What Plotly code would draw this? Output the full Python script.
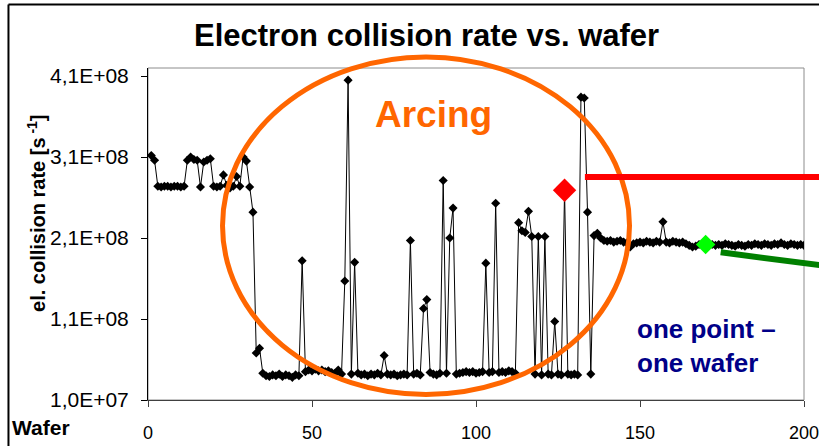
import plotly.graph_objects as go

# Wafer index and measured electron collision rate (in units of 1e6 s^-1)
wafers = list(range(1, 201))
rate_mil = [
    312, 306, 274, 273, 274, 274, 273, 274, 274, 273,
    274, 306, 310, 307, 306, 273, 304, 306, 308, 274,
    273, 274, 288, 275, 272, 274, 286, 274, 310, 305,
    273, 242, 68, 74, 43, 40, 39, 41, 40, 42,
    39, 41, 40, 38, 41, 40, 182, 45, 47, 46,
    48, 46, 47, 45, 46, 44, 43, 47, 42, 157,
    405, 42, 180, 43, 41, 42, 40, 42, 41, 43,
    41, 65, 42, 41, 42, 40, 41, 42, 41, 207,
    42, 43, 41, 123, 134, 44, 42, 41, 43, 281,
    43, 210, 247, 42, 43, 44, 45, 44, 45, 43,
    44, 45, 179, 44, 45, 253, 44, 45, 44, 46,
    45, 43, 229, 219, 217, 243, 212, 42, 212, 41,
    212, 42, 41, 107, 42, 41, 269, 42, 41, 42,
    41, 384, 383, 242, 42, 213, 216, 210, 207, 206,
    207, 205, 206, 207, 205, 204, 199, 203, 204, 205,
    204, 206, 205, 204, 206, 205, 230, 205, 204, 206,
    205, 204, 205, 203, 201, 199, 200, 202, 203, 202,
    203, 202, 201, 202, 201, 203, 202, 201, 200, 202,
    201, 200, 202, 201, 203, 202, 201, 203, 202, 201,
    203, 202, 204, 202, 201, 203, 202, 201, 202, 201,
]
rate = [v * 1e6 for v in rate_mil]

# Highlighted wafers
red_wafer = 127
green_wafer = 170

y_ticks = [1e7, 1.1e8, 2.1e8, 3.1e8, 4.1e8]
y_tick_text = ["1,0E+07", "1,1E+08", "2,1E+08", "3,1E+08", "4,1E+08"]
x_ticks = [0, 50, 100, 150, 200]

FONT = "Liberation Sans, Arial, sans-serif"

fig = go.Figure()
fig.add_trace(go.Scatter(
    x=wafers, y=rate, mode="lines+markers",
    line=dict(color="#000000", width=1),
    marker=dict(symbol="diamond", size=7, color="#000000"),
    showlegend=False,
))
fig.add_trace(go.Scatter(
    x=[red_wafer], y=[rate[wafers.index(red_wafer)]], mode="markers",
    marker=dict(symbol="diamond", size=18, color="#ff0000"),
    showlegend=False,
))
fig.add_trace(go.Scatter(
    x=[green_wafer], y=[rate[wafers.index(green_wafer)]], mode="markers",
    marker=dict(symbol="diamond", size=15, color="#00ff00"),
    showlegend=False,
))

shapes = [
    # plot-area frame (top / right in grey)
    dict(type="rect", xref="paper", yref="paper", x0=0, x1=1, y0=0, y1=1,
         line=dict(color="#8c8c8c", width=1), layer="below"),
    # outer slide frame
    dict(type="line", xref="paper", yref="paper", x0=-0.2127, x1=1.05,
         y0=1.1913, y1=1.1913, line=dict(color="#000000", width=2)),
    dict(type="line", xref="paper", yref="paper", x0=-0.2127, x1=-0.2127,
         y0=1.1913, y1=-0.16, line=dict(color="#000000", width=2)),
    # arcing region
    dict(type="circle", xref="paper", yref="paper", x0=0.1136, x1=0.734,
         y0=0.0166, y1=1.0331, line=dict(color="#ff6600", width=5)),
    # pointer lines
    dict(type="line", xref="paper", yref="paper", x0=0.666, x1=1.03,
         y0=0.6717, y1=0.6717, line=dict(color="#ff0000", width=6)),
    dict(type="line", xref="paper", yref="paper", x0=0.873, x1=1.03,
         y0=0.4449, y1=0.4046, line=dict(color="#008000", width=6)),
]

annotations = [
    dict(text="<b>Electron collision rate vs. wafer</b>", xref="paper", yref="paper",
         x=0.4238, y=1.0979, xanchor="center", yanchor="middle", showarrow=False,
         font=dict(family=FONT, size=31, color="#000000")),
    dict(text="<b>el. collision rate [s<sup> -1</sup>]</b>", xref="paper", yref="paper",
         x=-0.1692, y=0.5633, xanchor="center", yanchor="middle", textangle=-90,
         showarrow=False, font=dict(family=FONT, size=20, color="#000000")),
    dict(text="<b>Wafer</b>", xref="paper", yref="paper",
         x=-0.1631, y=-0.0843, xanchor="center", yanchor="middle", showarrow=False,
         font=dict(family=FONT, size=21, color="#000000")),
    dict(text="<b>Arcing</b>", xref="paper", yref="paper",
         x=0.4352, y=0.859, xanchor="center", yanchor="middle", showarrow=False,
         font=dict(family=FONT, size=37, color="#ff6600")),
    dict(text="<b>one point –<br>one wafer</b>", xref="paper", yref="paper",
         x=0.7424, y=0.164, xanchor="left", yanchor="middle", align="left",
         showarrow=False, font=dict(family=FONT, size=26, color="#000088")),
]

fig.update_layout(
    width=819, height=446,
    margin=dict(l=148, r=15, t=68, b=46, pad=0),
    paper_bgcolor="#ffffff", plot_bgcolor="#ffffff",
    font=dict(family=FONT, color="#000000"),
    shapes=shapes, annotations=annotations,
    xaxis=dict(range=[0, 200], tickvals=x_ticks, showgrid=False, zeroline=False,
               automargin=False, ticklabeloverflow="allow",
               showline=True, linecolor="#404040", linewidth=1,
               ticks="outside", ticklen=6, tickcolor="#404040",
               ticklabelstandoff=10,
               tickfont=dict(family=FONT, size=18, color="#000000")),
    yaxis=dict(range=[1e7, 4.2e8], tickvals=y_ticks, ticktext=y_tick_text,
               showgrid=False, zeroline=False,
               automargin=False, ticklabeloverflow="allow",
               showline=True, linecolor="#000000", linewidth=1,
               ticks="outside", ticklen=6, tickcolor="#000000",
               ticklabelstandoff=8,
               tickfont=dict(family=FONT, size=21, color="#000000")),
)

fig.write_html("out.html")
